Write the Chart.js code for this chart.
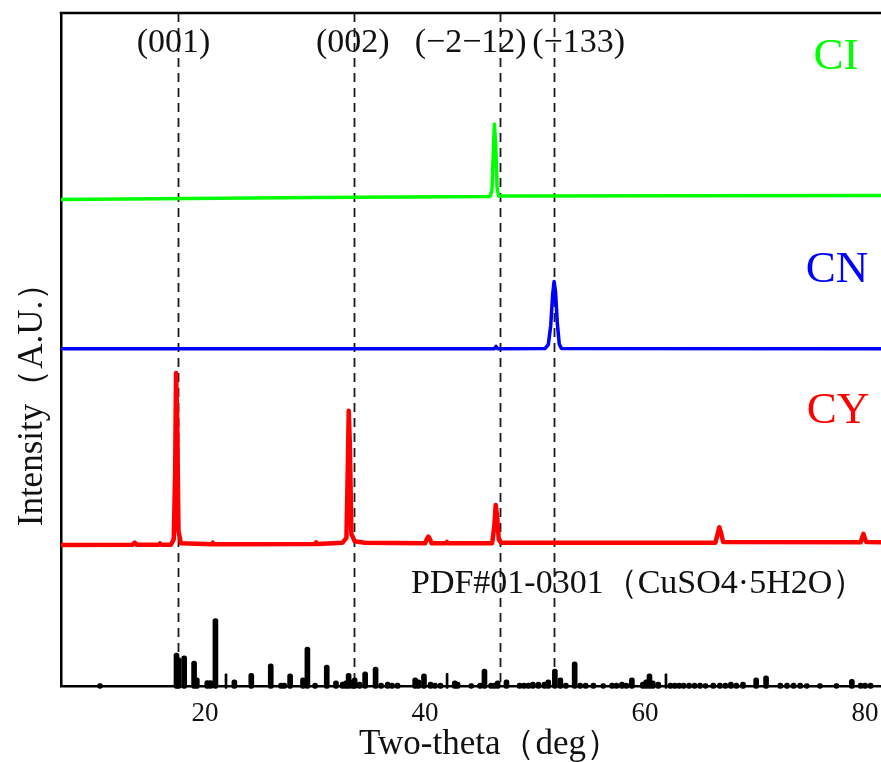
<!DOCTYPE html>
<html>
<head>
<meta charset="utf-8">
<script src="https://cdn.jsdelivr.net/npm/chart.js@4/dist/chart.umd.min.js"></script>
<style>
html,body{margin:0;padding:0;background:#fff;}
#wrap{width:881px;height:762px;position:relative;}
</style>
</head>
<body>
<div id="wrap"><canvas id="c"></canvas></div>
<script>
// ---- data (two-theta in degrees, intensity in arbitrary units 0..100) ----
const xTickValues = [20, 40, 60, 80];

const ciTheta = [6.9, 30, 45.9, 46.08, 46.22, 46.3, 46.42, 46.55, 46.7, 81.5];
const ciInt   = [72.3, 72.6, 72.75, 73.6, 80, 83.5, 80.5, 74, 72.8, 72.9];

const cnTheta = [6.9, 46.3, 46.45, 46.6, 50.9, 51.2, 51.42, 51.6, 51.73, 51.86, 52.02, 52.2, 52.4, 81.5];
const cnInt   = [50.1, 50.1, 50.45, 50.1, 50.15, 50.7, 53.5, 58.2, 60.1, 58.6, 54, 50.8, 50.15, 50.1];

const cyTheta = [6.9, 13.4, 13.6, 13.8, 15.8, 15.9, 16.0, 16.9, 17.15, 17.28, 17.36, 17.46, 17.58, 17.8,
  20.6, 20.7, 20.8, 30.0, 30.1, 30.2, 32.5, 32.85, 32.97, 33.06, 33.16, 33.3, 33.6, 34.5,
  40.0, 40.18, 40.3, 40.42, 40.6, 41.9, 42.0, 42.1, 46.1, 46.3, 46.42, 46.55, 46.7, 46.9,
  66.4, 66.6, 66.75, 66.9, 67.1, 79.6, 79.75, 79.85, 79.95, 80.1, 81.5];
const cyInt   = [20.95, 21.0, 21.3, 21.0, 21.0, 21.2, 21.0, 21.0, 21.8, 32, 46.5, 40, 23, 21.2,
  21.05, 21.3, 21.05, 21.1, 21.35, 21.1, 21.3, 22.0, 32, 40.9, 36, 22.6, 21.5, 21.3,
  21.2, 21.9, 22.2, 21.9, 21.2, 21.2, 21.4, 21.2, 21.2, 23.8, 26.9, 25.2, 21.8, 21.3,
  21.3, 22.6, 23.6, 22.8, 21.4, 21.35, 22.1, 22.6, 22.1, 21.4, 21.35];

// PDF#01-0301 reference sticks
const pdfTheta = [10.45, 17.4, 17.6, 18.1, 19.0, 19.25, 20.2, 20.5, 20.94, 22.66, 24.2, 25.97, 26.9, 27.2,
  27.73, 28.9, 29.3, 30.0, 31.06, 31.9, 32.5, 32.8, 33.05, 33.4, 33.6, 34.05, 34.55, 35.5, 36.0,
  36.6, 37.0, 37.5, 39.1, 39.4, 39.9, 40.5, 40.9, 41.4, 42.7, 42.95, 44.2, 45.0, 45.4, 46.0, 46.3,
  46.6, 47.4, 48.6, 49.0, 49.4, 49.8, 50.3, 50.85, 51.2, 51.8, 52.3, 52.8, 53.6, 54.1, 54.6, 55.3,
  56.2, 57.0, 57.4, 57.9, 58.3, 58.8, 59.8, 60.1, 60.4, 60.7, 61.2, 62.3, 62.7, 63.1, 63.5, 64.0,
  64.5, 65.0, 65.5, 66.2, 66.8, 67.3, 67.8, 68.3, 68.9, 70.1, 71.0, 72.3, 72.9, 73.5, 74.1, 74.7,
  75.9, 77.4, 78.8, 79.6, 80.0, 80.5];
const pdfInt = [0, 4.9, 4.2, 4.5, 3.7, 1.2, 0.8, 0.8, 10.0, 0.9, 1.9, 3.3, 0.45, 0.45,
  1.8, 1.2, 5.8, 0.45, 3.1, 0.75, 0.6, 0.75, 1.9, 0.9, 1.2, 0.6, 2.1, 2.8, 0.45,
  0.6, 0.45, 0.45, 1.2, 0.9, 1.8, 0.6, 0.45, 0.45, 0.75, 0.6, 0.3, 0.45, 2.5, 0.45, 0.45,
  0.75, 0.9, 0.45, 0.45, 0.45, 0.6, 0.6, 0.6, 0.9, 2.5, 1.2, 0.45, 3.6, 0.45, 0.45, 0.45,
  0.3, 0.45, 0.45, 0.6, 0.45, 1.2, 0.6, 0.9, 1.8, 0.75, 0.6, 0.45, 0.45, 0.45, 0.45, 0.45,
  0.45, 0.45, 0.3, 0.45, 0.45, 0.45, 0.6, 0.45, 0.6, 1.2, 1.5, 0.45, 0.45, 0.45, 0.45, 0.3,
  0.3, 0.3, 1.0, 0.45, 0.45, 0.45];
const pdfThinTheta = [21.9, 42.0, 61.9];
const pdfThinInt   = [1.8, 1.9, 1.8];

// indexed planes (dashed guide lines)
const hklTheta  = [17.52, 33.53, 46.77, 51.73];
const hklLabels = ['(001)', '(002)', '(\u22122\u221212)', '(\u2212133)'];

const seriesNames = ['CI', 'CN', 'CY'];
const pdfLabel = 'PDF#01-0301\uFF08CuSO4\u00B75H2O\uFF09';
const xTitle = 'Two-theta\uFF08deg\uFF09';
const yTitle = 'Intensity\uFF08A.U.\uFF09';

// ---- build ----
const pts = (xs, ys) => xs.map((x, i) => ({x, y: ys[i]}));
const sticks = (xs, ys) => xs.map((x, i) => ({x, y: [-0.35, Math.max(ys[i], 0.35)]}));

const SERIF = "'Liberation Serif', 'Times New Roman', serif";
const GREEN = '#00ff00', BLUE = '#0000ff', RED = '#ff0000';

const decor = {
  id: 'decor',
  beforeDatasetsDraw(chart) {
    const {ctx, chartArea: a, scales: {x}} = chart;
    ctx.save();
    ctx.strokeStyle = '#1a1a1a';
    ctx.lineWidth = 1.8;
    ctx.setLineDash([9, 6]);
    hklTheta.forEach(t => {
      const px = Math.round(x.getPixelForValue(t)) + 0.5;
      ctx.beginPath();
      ctx.moveTo(px, a.top);
      ctx.lineTo(px, a.bottom);
      ctx.stroke();
    });
    ctx.restore();
  },
  afterDraw(chart) {
    const {ctx, chartArea: a} = chart;
    ctx.save();
    // top frame
    ctx.strokeStyle = '#000';
    ctx.lineWidth = 2.5;
    ctx.beginPath();
    ctx.moveTo(a.left - 1.25, a.top);
    ctx.lineTo(a.right, a.top);
    ctx.stroke();

    ctx.fillStyle = '#111';
    ctx.textBaseline = 'alphabetic';
    // hkl labels
    ctx.font = '34px ' + SERIF;
    ctx.textAlign = 'center';
    const hklX = [173.5, 352.7, 470.7, 578.7];
    hklLabels.forEach((t, i) => ctx.fillText(t, hklX[i], 52));

    // series labels
    ctx.font = '45px ' + SERIF;
    const colors = [GREEN, BLUE, RED];
    const sx = [836, 837, 838], sy = [69, 282, 423];
    seriesNames.forEach((t, i) => { ctx.fillStyle = colors[i]; ctx.fillText(t, sx[i], sy[i]); });

    // PDF label
    ctx.fillStyle = '#111';
    ctx.font = '34px ' + SERIF;
    ctx.textAlign = 'left';
    ctx.fillText(pdfLabel, 411, 593);

    // axis titles
    ctx.font = '35px ' + SERIF;
    ctx.textAlign = 'center';
    ctx.fillText(xTitle, 490, 754);
    ctx.translate(42, 396);
    ctx.rotate(-Math.PI / 2);
    ctx.fillText(yTitle, 0, 0);
    ctx.restore();
  }
};

new Chart(document.getElementById('c'), {
  type: 'line',
  data: {
    datasets: [
      {type: 'bar', data: sticks(pdfTheta, pdfInt), backgroundColor: '#000', barThickness: 5,
       borderRadius: 2.5, borderSkipped: false, grouped: false, clip: false, order: 4},
      {type: 'bar', data: sticks(pdfThinTheta, pdfThinInt), backgroundColor: '#000', barThickness: 2,
       borderRadius: 1, borderSkipped: false, grouped: false, clip: false, order: 5},
      {data: pts(cyTheta, cyInt), borderColor: RED, borderWidth: 4.5, pointRadius: 0, tension: 0,
       borderJoinStyle: 'round', borderCapStyle: 'round', order: 3},
      {data: pts(cnTheta, cnInt), borderColor: BLUE, borderWidth: 3.5, pointRadius: 0, tension: 0,
       borderJoinStyle: 'round', borderCapStyle: 'round', order: 2},
      {data: pts(ciTheta, ciInt), borderColor: GREEN, borderWidth: 3.5, pointRadius: 0, tension: 0,
       borderJoinStyle: 'round', borderCapStyle: 'round', order: 1}
    ]
  },
  options: {
    responsive: true,
    maintainAspectRatio: false,
    animation: false,
    layout: {padding: {top: 13, right: 0, left: 0, bottom: 0}},
    plugins: {legend: {display: false}, tooltip: {enabled: false}},
    scales: {
      x: {
        type: 'linear', min: 6.9, max: 81.45, offset: false,
        afterBuildTicks: s => { s.ticks = xTickValues.map(v => ({value: v})); },
        afterFit: s => { s.height = 76; s.paddingLeft = 0; s.paddingRight = 0; },
        grid: {display: false, drawTicks: false},
        border: {display: true, color: '#000', width: 2.5},
        ticks: {padding: 12, color: '#111', font: {family: SERIF, size: 27}, maxRotation: 0,
                autoSkip: false, callback: v => String(v)}
      },
      y: {
        type: 'linear', min: 0, max: 100,
        afterFit: s => { s.width = 61; },
        grid: {display: false, drawTicks: false},
        border: {display: true, color: '#000', width: 2.5},
        ticks: {display: false}
      }
    }
  },
  plugins: [decor]
});
</script>
</body>
</html>
